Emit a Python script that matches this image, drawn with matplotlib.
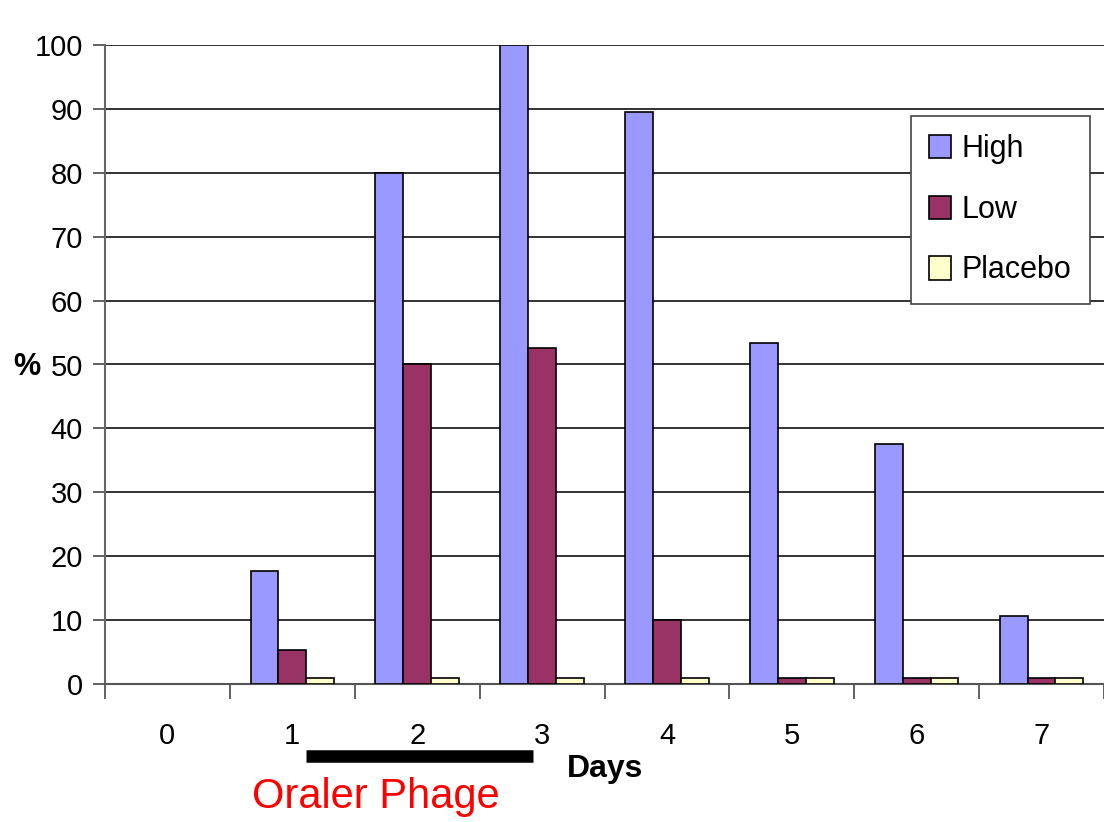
import matplotlib
matplotlib.use("Agg")
import matplotlib.pyplot as plt
from matplotlib.patches import Patch
import numpy as np

plt.rcParams['font.family'] = ['Liberation Sans', 'DejaVu Sans']

days = ['0', '1', '2', '3', '4', '5', '6', '7']
high = [0, 17.7, 80, 100, 89.5, 53.4, 37.6, 10.6]
low = [0, 5.3, 50, 52.6, 10, 1, 1, 1]
placebo = [0, 1, 1, 1, 1, 1, 1, 1]
series_names = ['High', 'Low', 'Placebo']
colors = ['#9999FF', '#993366', '#FFFFCC']

fig = plt.figure(figsize=(11.04, 8.22), dpi=100)
ax = fig.add_axes([105 / 1104, 1 - 684 / 822, (1104 - 105) / 1104, (684 - 45) / 822])

x = np.arange(len(days))
w = 0.223
for i, (vals, name, c) in enumerate(zip([high, low, placebo], series_names, colors)):
    lw = [1.2 if v > 0 else 0 for v in vals]
    ax.bar(x + (i - 1) * w, vals, width=w, color=c, edgecolor='black',
           linewidth=lw, zorder=3)

ax.set_xlim(-0.5, -0.5 + (1104 - 105) / 125.5)
ax.set_ylim(0, 100)
ax.set_yticks(np.arange(0, 101, 10))
ax.yaxis.grid(True, color='#222222', linewidth=1.3, zorder=0)
ax.set_axisbelow(True)

# category labels sit centred, tick marks sit at the category boundaries
ax.set_xticks(x)
ax.set_xticklabels(days)
ax.tick_params(axis='x', length=0, pad=27, labelsize=21)
ax.set_xticks(np.arange(-0.5, len(days) + 0.5, 1), minor=True)
ax.tick_params(axis='x', which='minor', length=11, width=1.3, color='#555555')
ax.tick_params(axis='y', length=9, width=1.3, color='#555555', labelsize=21, pad=7)

for side in ['top', 'right']:
    ax.spines[side].set_visible(False)
ax.spines['left'].set_color('#666666')
ax.spines['left'].set_linewidth(1.5)
ax.spines['bottom'].set_color('#555555')
ax.spines['bottom'].set_linewidth(1.5)

handles = [Patch(facecolor=c, edgecolor='black', linewidth=1.2, label=n)
           for c, n in zip(colors, series_names)]
leg = ax.legend(handles=handles, loc='upper left',
                bbox_to_anchor=((911 - 105) / 999, 1 - (116 - 45) / 639),
                borderaxespad=0, fontsize=22, frameon=True, fancybox=False,
                edgecolor='#444444', framealpha=1,
                handlelength=0.7, handleheight=0.8, handletextpad=0.35,
                labelspacing=1.0, borderpad=0.6)
leg.get_frame().set_linewidth(1.2)

fig.text(27 / 1104, 1 - 367 / 822, '%', fontsize=22, fontweight='bold', ha='center', va='center')
fig.text(605 / 1104, 1 - 769 / 822, 'Days', fontsize=23, fontweight='bold', ha='center', va='center')
fig.text(376 / 1104, 1 - 797 / 822, 'Oraler Phage', fontsize=30, color='#FF0000', ha='center', va='center')

# bar marking the oral phage period
ax.plot([1.11, 2.93], [-11.3, -11.3], color='black', linewidth=9, solid_capstyle='butt', clip_on=False)

fig.savefig('out.png', dpi=100, facecolor='white')
